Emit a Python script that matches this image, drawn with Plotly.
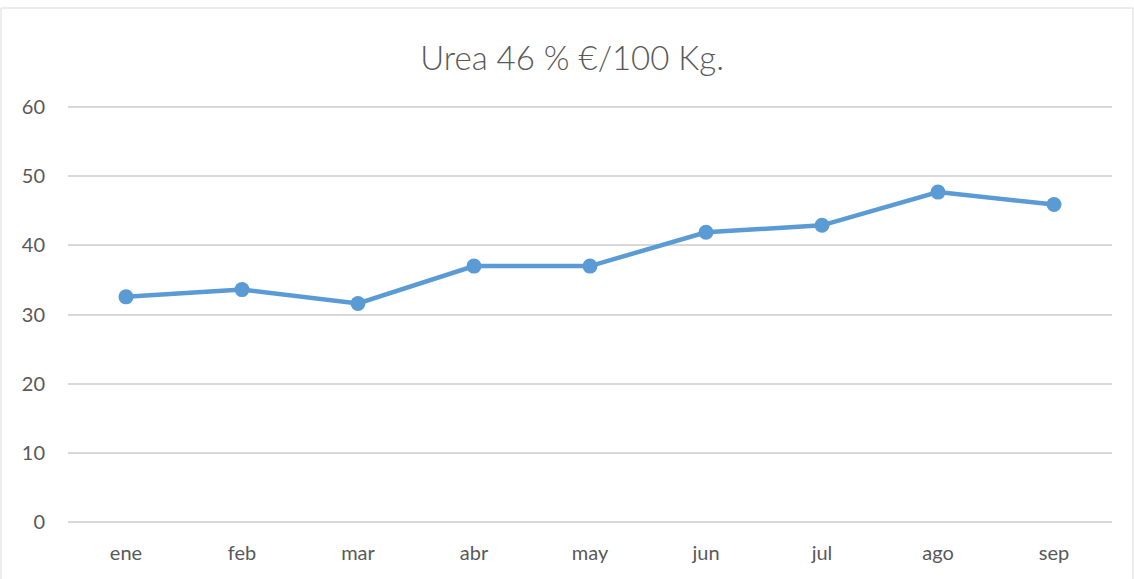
import plotly.graph_objects as go

months = ["ene", "feb", "mar", "abr", "may", "jun", "jul", "ago", "sep"]
prices = [32.55, 33.6, 31.6, 37.0, 37.0, 41.9, 42.9, 47.7, 45.9]
y_ticks = [0, 10, 20, 30, 40, 50, 60]

W, H = 1134, 579
L, R, T, B = 68, 22, 105, 55
pw, ph = W - L - R, H - T - B

def px(x):
    return (x - L) / pw

def py(y):
    return (H - B - y) / ph

fig = go.Figure()
fig.add_trace(go.Scatter(
    x=months, y=prices, mode="lines+markers",
    line=dict(color="#5b9bd5", width=4.5),
    marker=dict(color="#5b9bd5", size=15),
    showlegend=False, hoverinfo="x+y",
))

fig.update_layout(
    width=W, height=H,
    margin=dict(l=L, r=R, t=T, b=B),
    paper_bgcolor="white", plot_bgcolor="white",
    font=dict(family="Lato, Open Sans, sans-serif", color="#595959", size=20),
    title=dict(text="Urea 46 % €/100 Kg.", x=572 / W, xanchor="center", y=1 - 58 / H, yanchor="middle",
               font=dict(size=33, color="#595959", weight=300)),
    xaxis=dict(range=[-0.5, 8.5], showgrid=False, showline=False, ticks="", tickfont=dict(size=20),
               ticklabelstandoff=15),
    yaxis=dict(range=[-0.3, 60.3], tickvals=y_ticks, showgrid=True, gridcolor="#d9d9d9", gridwidth=1.5,
               zeroline=False, showline=False, ticks="", tickfont=dict(size=20), ticklabelstandoff=22),
    shapes=[dict(type="rect", xref="paper", yref="paper",
                 x0=px(1), x1=px(1133), y0=py(600), y1=py(8),
                 line=dict(color="#d9d9d9", width=1), layer="below")],
)

fig.write_html("out.html", post_script="document.body.style.margin='0';",
               config={"displayModeBar": False})
